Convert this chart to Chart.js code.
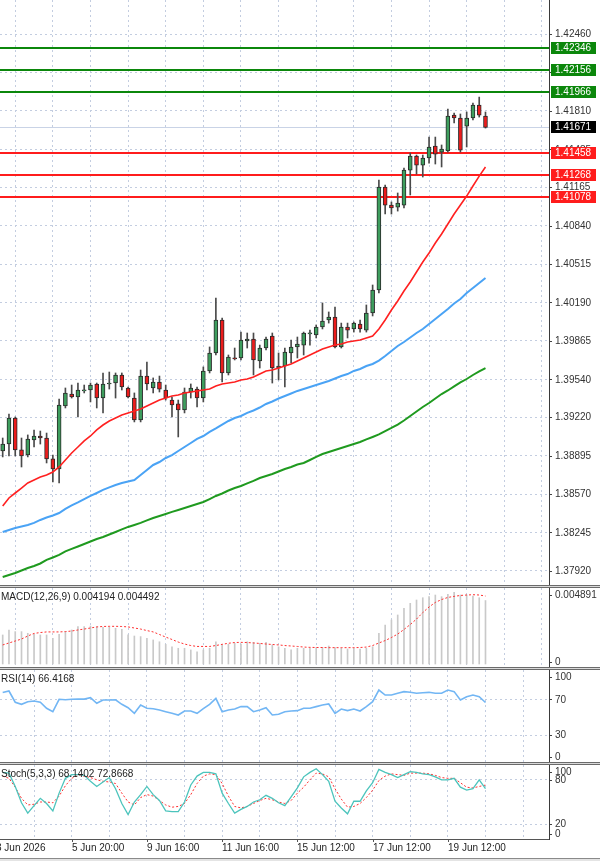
<!DOCTYPE html>
<html>
<head>
<meta charset="utf-8">
<title>H4 chart</title>
<script src="https://cdn.jsdelivr.net/npm/chart.js@4.4.1/dist/chart.umd.min.js"></script>
<style>
  html, body { margin: 0; padding: 0; background: #fff; }
  #wrap { position: relative; width: 600px; height: 861px; overflow: hidden; background: #fff; }
  #wrap canvas { position: absolute; left: 0; }
  .sep { position: absolute; left: 0; width: 600px; height: 1px; background: #d9d9d9; border-top: 1px solid #6b6b6b; border-bottom: 1px solid #6b6b6b; }
  .bottom { position: absolute; left: 0; top: 858px; width: 600px; height: 3px; background: #e4e4e4; border-top: 1px solid #8a8a8a; }
</style>
</head>
<body>
<div id="wrap">
  <canvas id="priceChart" width="600" height="585" style="top:0"></canvas>
  <div class="sep" style="top:585px"></div>
  <canvas id="macdChart" width="600" height="79" style="top:588px"></canvas>
  <div class="sep" style="top:667px"></div>
  <canvas id="rsiChart" width="600" height="92" style="top:670px"></canvas>
  <div class="sep" style="top:762px"></div>
  <canvas id="stochChart" width="600" height="93" style="top:765px"></canvas>
  <div class="bottom"></div>
</div>
<script>
// candles, H4
const opens = [1.38934,1.38993,1.39213,1.38943,1.38900,1.39027,1.39061,1.39044,1.38867,1.38782,
  1.39315,1.39416,1.39391,1.39442,1.39450,1.39501,1.39382,1.39501,1.39509,1.39577,
  1.39467,1.39382,1.39196,1.39568,1.39467,1.39518,1.39450,1.39365,1.39332,1.39281,
  1.39433,1.39458,1.39382,1.39611,1.39763,1.40042,1.39594,1.39721,1.39721,1.39864,
  1.39881,1.39695,1.39805,1.39907,1.39636,1.39653,1.39763,1.39814,1.39830,1.39924,
  1.39915,1.39983,1.40042,1.40067,1.39814,1.39983,1.39966,1.40008,1.39957,1.40101,
  1.40296,1.41166,1.41014,1.40997,1.41014,1.41310,1.41429,1.41352,1.41412,1.41513,
  1.41462,1.41471,1.41775,1.41750,1.41682,1.41750,1.41860,1.41767];
const highs = [1.39044,1.39247,1.39222,1.39044,1.39070,1.39112,1.39103,1.39086,1.38900,1.39374,
  1.39467,1.39492,1.39509,1.39492,1.39509,1.39509,1.39594,1.39602,1.39594,1.39594,
  1.39475,1.39425,1.39619,1.39687,1.39552,1.39568,1.39492,1.39391,1.39365,1.39467,
  1.39501,1.39475,1.39645,1.39814,1.40228,1.40059,1.39746,1.39805,1.39940,1.39932,
  1.39932,1.39830,1.39898,1.39932,1.39763,1.39805,1.39873,1.39898,1.39940,1.39957,
  1.40000,1.40186,1.40110,1.40152,1.40016,1.40016,1.40025,1.40042,1.40169,1.40338,
  1.41226,1.41183,1.41040,1.41116,1.41327,1.41454,1.41437,1.41437,1.41589,1.41589,
  1.41522,1.41826,1.41792,1.41784,1.41801,1.41877,1.41927,1.41801];
const lows = [1.38884,1.38892,1.38892,1.38799,1.38884,1.38968,1.38993,1.38833,1.38672,1.38664,
  1.39298,1.39382,1.39222,1.39425,1.39349,1.39298,1.39256,1.39458,1.39382,1.39450,
  1.39382,1.39180,1.39180,1.39450,1.39425,1.39433,1.39365,1.39222,1.39053,1.39256,
  1.39382,1.39306,1.39349,1.39594,1.39746,1.39518,1.39577,1.39704,1.39704,1.39805,
  1.39577,1.39636,1.39788,1.39509,1.39535,1.39475,1.39678,1.39721,1.39746,1.39830,
  1.39890,1.39966,1.40016,1.39805,1.39805,1.39890,1.39940,1.39940,1.39940,1.40076,
  1.40270,1.40938,1.40938,1.40963,1.40989,1.41099,1.41276,1.41251,1.41369,1.41361,
  1.41336,1.41462,1.41708,1.41462,1.41505,1.41733,1.41758,1.41665];
const closes = [1.38993,1.39213,1.38943,1.38892,1.39036,1.39061,1.39044,1.38867,1.38782,1.39323,
  1.39425,1.39391,1.39450,1.39450,1.39492,1.39382,1.39501,1.39509,1.39577,1.39475,
  1.39391,1.39196,1.39568,1.39501,1.39518,1.39458,1.39382,1.39323,1.39281,1.39433,
  1.39467,1.39382,1.39611,1.39763,1.40042,1.39594,1.39729,1.39712,1.39873,1.39881,
  1.39704,1.39805,1.39881,1.39636,1.39653,1.39771,1.39814,1.39839,1.39932,1.39932,
  1.39983,1.40033,1.40067,1.39814,1.39983,1.39957,1.40016,1.39966,1.40101,1.40296,
  1.41166,1.41014,1.40989,1.41031,1.41310,1.41429,1.41352,1.41412,1.41505,1.41445,
  1.41488,1.41767,1.41750,1.41479,1.41750,1.41860,1.41775,1.41671];

// moving averages
const maRed = [1.38469,1.38537,1.38579,1.38621,1.38664,1.38689,1.38714,1.38731,1.38757,1.38799,
  1.38858,1.38917,1.38968,1.39019,1.39061,1.39112,1.39154,1.39188,1.39213,1.39239,
  1.39256,1.39273,1.39289,1.39315,1.39340,1.39366,1.39382,1.39399,1.39408,1.39425,
  1.39433,1.39442,1.39450,1.39459,1.39484,1.39501,1.39509,1.39518,1.39535,1.39543,
  1.39560,1.39585,1.39611,1.39619,1.39636,1.39653,1.39670,1.39695,1.39721,1.39746,
  1.39771,1.39797,1.39814,1.39831,1.39839,1.39856,1.39864,1.39873,1.39890,1.39907,
  1.39966,1.40042,1.40126,1.40203,1.40287,1.40363,1.40448,1.40532,1.40608,1.40693,
  1.40769,1.40854,1.40938,1.41014,1.41090,1.41175,1.41259,1.41336];
const maBlue = [1.38249,1.38266,1.38283,1.38296,1.38309,1.38326,1.38351,1.38372,1.38389,1.38410,
  1.38444,1.38474,1.38499,1.38528,1.38554,1.38579,1.38605,1.38626,1.38647,1.38664,
  1.38676,1.38689,1.38731,1.38774,1.38816,1.38841,1.38875,1.38900,1.38934,1.38968,
  1.39002,1.39036,1.39061,1.39095,1.39125,1.39158,1.39188,1.39213,1.39230,1.39256,
  1.39277,1.39302,1.39332,1.39353,1.39378,1.39399,1.39420,1.39442,1.39459,1.39475,
  1.39492,1.39509,1.39526,1.39547,1.39568,1.39585,1.39611,1.39628,1.39653,1.39670,
  1.39699,1.39738,1.39780,1.39822,1.39856,1.39894,1.39932,1.39966,1.40008,1.40050,
  1.40093,1.40135,1.40181,1.40219,1.40270,1.40312,1.40355,1.40397];
const maGreen = [1.37869,1.37886,1.37903,1.37924,1.37945,1.37962,1.37983,1.38013,1.38034,1.38055,
  1.38085,1.38106,1.38127,1.38148,1.38169,1.38190,1.38207,1.38228,1.38249,1.38271,
  1.38292,1.38309,1.38326,1.38347,1.38368,1.38385,1.38402,1.38419,1.38435,1.38452,
  1.38469,1.38486,1.38503,1.38528,1.38554,1.38575,1.38600,1.38621,1.38638,1.38660,
  1.38681,1.38706,1.38723,1.38740,1.38761,1.38782,1.38799,1.38820,1.38833,1.38858,
  1.38884,1.38909,1.38926,1.38943,1.38960,1.38977,1.38994,1.39010,1.39032,1.39053,
  1.39074,1.39103,1.39129,1.39158,1.39192,1.39230,1.39268,1.39306,1.39340,1.39378,
  1.39416,1.39446,1.39480,1.39514,1.39543,1.39577,1.39607,1.39636];

// oscillators
const macdHist = [0.00192,0.00225,0.00214,0.00214,0.00203,0.00196,0.00192,0.00192,0.00170,0.00196,
  0.00214,0.00225,0.00247,0.00247,0.00251,0.00247,0.00243,0.00243,0.00236,0.00229,
  0.00192,0.00185,0.00181,0.00170,0.00159,0.00147,0.00130,0.00114,0.00104,0.00104,
  0.00093,0.00081,0.00093,0.00104,0.00147,0.00126,0.00130,0.00137,0.00132,0.00147,
  0.00143,0.00137,0.00143,0.00126,0.00114,0.00104,0.00093,0.00104,0.00104,0.00104,
  0.00108,0.00110,0.00119,0.00108,0.00104,0.00099,0.00104,0.00099,0.00104,0.00114,
  0.00203,0.00258,0.00291,0.00324,0.00368,0.00401,0.00423,0.00438,0.00445,0.00456,
  0.00445,0.00461,0.00474,0.00456,0.00456,0.00449,0.00438,0.004194];
const macdSignal = [0.00126,0.00139,0.00152,0.00165,0.00185,0.00202,0.00208,0.00212,0.00212,0.00212,
  0.00214,0.00218,0.00225,0.00231,0.00238,0.00245,0.00248,0.00249,0.00249,0.00248,
  0.00245,0.00238,0.00231,0.00221,0.00212,0.00195,0.00178,0.00162,0.00145,0.00132,
  0.00122,0.00116,0.00116,0.00116,0.00122,0.00130,0.00137,0.00142,0.00143,0.00142,
  0.00139,0.00136,0.00132,0.00129,0.00126,0.00122,0.00119,0.00116,0.00112,0.00110,
  0.00109,0.00109,0.00108,0.00108,0.00108,0.00108,0.00108,0.00109,0.00112,0.00122,
  0.00139,0.00155,0.00175,0.00198,0.00228,0.00261,0.00297,0.00340,0.00377,0.00407,
  0.00426,0.00440,0.00447,0.00453,0.00456,0.00458,0.00456,0.004492];
const rsi = [77.5,79.3,66.7,64.4,67.3,68.1,66.7,59.9,56.1,70.0,
  69.5,70.0,70.2,70.2,71.8,65.5,69.2,69.2,69.5,64.4,
  60.6,54.3,63.6,59.9,59.5,58.0,56.1,54.3,52.4,56.9,
  56.9,54.3,59.5,64.4,71.1,56.1,58.0,59.1,61.8,61.8,
  56.1,58.0,60.6,52.4,53.2,56.1,56.9,57.3,59.9,59.9,
  61.8,63.6,64.8,54.3,59.1,57.3,59.1,56.9,61.8,67.3,
  80.4,74.8,74.8,76.7,78.6,77.8,76.7,77.4,77.8,76.7,
  76.7,80.4,78.6,69.2,72.9,74.8,72.9,66.4168];
const stochK = [90,89,71,49,35,45,55,48,38,62,
  82,87,87,86,78,71,77,83,68,48,
  33,50,60,71,60,52,38,37,37,50,
  73,85,90,90,88,62,48,35,40,44,
  50,53,59,55,49,45,57,69,84,90,
  95,87,78,51,42,34,51,51,65,76,
  94,90,87,83,87,91,90,88,87,84,
  80,80,82,70,66,68,80,68.1402];
const stochD = [85,82,70,55,46,47,50,50,49,58,
  72,82,86,85,83,80,78,77,75,62,
  50,46,56,60,58,52,46,43,44,48,
  60,75,85,88,87,75,58,44,42,44,
  48,52,55,53,50,48,52,62,70,80,
  89,88,84,68,54,43,44,48,56,66,
  79,85,88,87,86,89,89,89,88,86,
  83,82,82,76,70,69,71,72.8668];

// axes
const priceTicks = [1.42460,1.42135,1.41810,1.41485,1.41165,1.40840,1.40515,1.40190,
  1.39865,1.39540,1.39220,1.38895,1.38570,1.38245,1.37920];
const resistance = [1.42346, 1.42156, 1.41966];
const support = [1.41458, 1.41268, 1.41078];
const gridBars = [5, 11, 17, 23, 29, 35, 41, 47, 53, 59, 65, 71, 77, 83];
const timeLabels = ['3 Jun 2026', '5 Jun 20:00', '9 Jun 16:00', '11 Jun 16:00', '15 Jun 12:00', '17 Jun 12:00', '19 Jun 12:00'];
const timeLabelBars = [-1, 11, 23, 35, 47, 59, 71];

Chart.defaults.font.family = '"Liberation Sans", Arial, sans-serif';
Chart.defaults.font.size = 10;
Chart.defaults.animation = false;

const FONT = '10px "Liberation Sans", Arial, sans-serif';
const GRID = '#c3cde0';
const xMin = -0.43, xMax = 87.13;

function pts(arr) {
  return arr.map((v, i) => ({ x: i, y: v }));
}

function xAxis(height) {
  return {
    type: 'linear', min: xMin, max: xMax, offset: false,
    afterBuildTicks: s => { s.ticks = gridBars.map(v => ({ value: v })); },
    afterFit: s => { s.height = height; },
    ticks: { display: false },
    grid: { color: GRID, drawTicks: false },
    border: { display: false, dash: [2, 3] }
  };
}

function yAxis(min, max, gridValues) {
  return {
    position: 'right', min: min, max: max,
    afterBuildTicks: s => { s.ticks = gridValues.map(v => ({ value: v })); },
    afterFit: s => { s.width = 51; },
    ticks: { display: false },
    grid: { color: GRID, drawTicks: false, display: gridValues.length > 0 },
    border: { display: false, dash: [2, 3] }
  };
}

// labels, levels and frame drawn on top of each panel
const decor = {
  id: 'decor',
  beforeDatasetsDraw(chart, args, opts) {
    const { ctx, chartArea: a } = chart;
    const y = chart.scales.y;
    (opts.lines || []).forEach(l => {
      const py = Math.round(y.getPixelForValue(l.value));
      ctx.save();
      ctx.fillStyle = l.color;
      ctx.fillRect(a.left, py - Math.floor(l.width / 2), a.right - a.left, l.width);
      ctx.restore();
    });
  },
  afterDraw(chart, args, opts) {
    const { ctx, chartArea: a } = chart;
    const y = chart.scales.y;
    ctx.save();
    ctx.font = FONT;
    ctx.textBaseline = 'middle';
    ctx.textAlign = 'left';

    (opts.ticks || []).forEach(v => {
      let py = y.getPixelForValue(v);
      py = Math.min(Math.max(py, a.top + 7), a.bottom - 5);
      ctx.fillStyle = '#444';
      ctx.fillRect(a.right, Math.round(py), 3, 1);
      ctx.fillStyle = '#333';
      ctx.fillText(opts.format(v), a.right + 6, py + 0.5);
    });

    (opts.boxes || []).forEach(b => {
      const py = Math.round(y.getPixelForValue(b.value));
      ctx.fillStyle = b.bg;
      ctx.fillRect(a.right + 2, py - 6, 45, 12);
      ctx.fillStyle = '#fff';
      ctx.fillText(b.text, a.right + 6, py + 0.5);
    });

    if (opts.title) {
      ctx.fillStyle = '#222';
      ctx.fillText(opts.title, 1, a.top + 9);
    }

    if (opts.time) {
      const x = chart.scales.x;
      ctx.fillStyle = '#555';
      ctx.fillRect(a.left, a.bottom, a.right - a.left, 1);
      timeLabels.forEach((t, i) => {
        const px = Math.round(x.getPixelForValue(timeLabelBars[i]));
        ctx.fillStyle = '#555';
        ctx.fillRect(px, a.bottom, 1, 3);
        ctx.fillStyle = '#1e1e1e';
        ctx.fillText(t, px, a.bottom + 9.5);
      });
    }

    ctx.fillStyle = '#3a3a3a';
    ctx.fillRect(a.right, 0, 1, opts.time ? a.bottom + 1 : chart.height);
    ctx.restore();
  }
};

const base = {
  responsive: false,
  animation: false,
  events: [],
  layout: { padding: 0 }
};

// Price panel with candles and moving averages
const lastPrice = closes[closes.length - 1];
const bodyColors = closes.map((c, i) => c >= opens[i] ? '#3e9e5e' : '#ec1c1c');

new Chart(document.getElementById('priceChart'), {
  type: 'bar',
  data: {
    datasets: [
      { type: 'line', data: pts(maRed), borderColor: '#ff2020', borderWidth: 1.6, pointRadius: 0, order: 0 },
      { type: 'line', data: pts(maBlue), borderColor: '#4aa3f5', borderWidth: 2, pointRadius: 0, order: 0 },
      { type: 'line', data: pts(maGreen), borderColor: '#1f9a1f', borderWidth: 2, pointRadius: 0, order: 0 },
      {
        data: opens.map((o, i) => ({ x: i, y: [o, closes[i]] })),
        backgroundColor: bodyColors, borderColor: '#2a2a2a', borderWidth: 1, borderSkipped: false,
        barThickness: 4, minBarLength: 1, grouped: false, order: 1
      },
      {
        data: lows.map((l, i) => ({ x: i, y: [l, highs[i]] })),
        backgroundColor: '#4a4a4a', barThickness: 1, grouped: false, order: 2
      }
    ]
  },
  options: {
    ...base,
    scales: { x: xAxis(0), y: yAxis(1.37801, 1.42748, priceTicks) },
    plugins: {
      legend: { display: false }, tooltip: { enabled: false },
      decor: {
        ticks: priceTicks, format: v => v.toFixed(5),
        lines: [
          ...resistance.map(v => ({ value: v, color: '#0b870b', width: 2 })),
          ...support.map(v => ({ value: v, color: '#ff1c1c', width: 2 })),
          { value: lastPrice, color: '#c9d3e6', width: 1 }
        ],
        boxes: [
          ...resistance.map(v => ({ value: v, bg: '#0b870b', text: v.toFixed(5) })),
          ...support.map(v => ({ value: v, bg: '#ff1c1c', text: v.toFixed(5) })),
          { value: lastPrice, bg: '#000', text: lastPrice.toFixed(5) }
        ]
      }
    }
  },
  plugins: [decor]
});

// MACD
new Chart(document.getElementById('macdChart'), {
  type: 'bar',
  data: {
    datasets: [
      { type: 'line', data: pts(macdSignal), borderColor: '#ff3030', borderWidth: 1, borderDash: [2, 2], pointRadius: 0, order: 0 },
      { data: pts(macdHist), backgroundColor: '#c9c9c9', barThickness: 1, grouped: false, order: 1 }
    ]
  },
  options: {
    ...base,
    scales: { x: xAxis(0), y: yAxis(-0.000198, 0.005023, []) },
    plugins: {
      legend: { display: false }, tooltip: { enabled: false },
      decor: {
        ticks: [0.004891, 0], format: v => v === 0 ? '0' : v.toFixed(6),
        title: 'MACD(12,26,9) ' + macdHist[macdHist.length - 1].toFixed(6) + ' ' + macdSignal[macdSignal.length - 1].toFixed(6)
      }
    }
  },
  plugins: [decor]
});

// RSI
new Chart(document.getElementById('rsiChart'), {
  type: 'line',
  data: {
    datasets: [
      { data: pts(rsi), borderColor: '#72b6f4', borderWidth: 1.6, pointRadius: 0 }
    ]
  },
  options: {
    ...base,
    scales: { x: xAxis(0), y: yAxis(-0.2, 102.8, [30, 70]) },
    plugins: {
      legend: { display: false }, tooltip: { enabled: false },
      decor: {
        ticks: [100, 70, 30, 0], format: v => String(v),
        title: 'RSI(14) ' + rsi[rsi.length - 1].toFixed(4)
      }
    }
  },
  plugins: [decor]
});

// Stochastic
new Chart(document.getElementById('stochChart'), {
  type: 'line',
  data: {
    datasets: [
      { data: pts(stochK), borderColor: '#4cc4bc', borderWidth: 1.3, pointRadius: 0 },
      { data: pts(stochD), borderColor: '#ff3030', borderWidth: 1, borderDash: [2, 2], pointRadius: 0 }
    ]
  },
  options: {
    ...base,
    scales: { x: xAxis(19), y: yAxis(0, 100, [20, 80]) },
    plugins: {
      legend: { display: false }, tooltip: { enabled: false },
      decor: {
        ticks: [100, 80, 20, 0], format: v => String(v),
        title: 'Stoch(5,3,3) ' + stochK[stochK.length - 1].toFixed(4) + ' ' + stochD[stochD.length - 1].toFixed(4),
        time: true
      }
    }
  },
  plugins: [decor]
});
</script>
</body>
</html>
